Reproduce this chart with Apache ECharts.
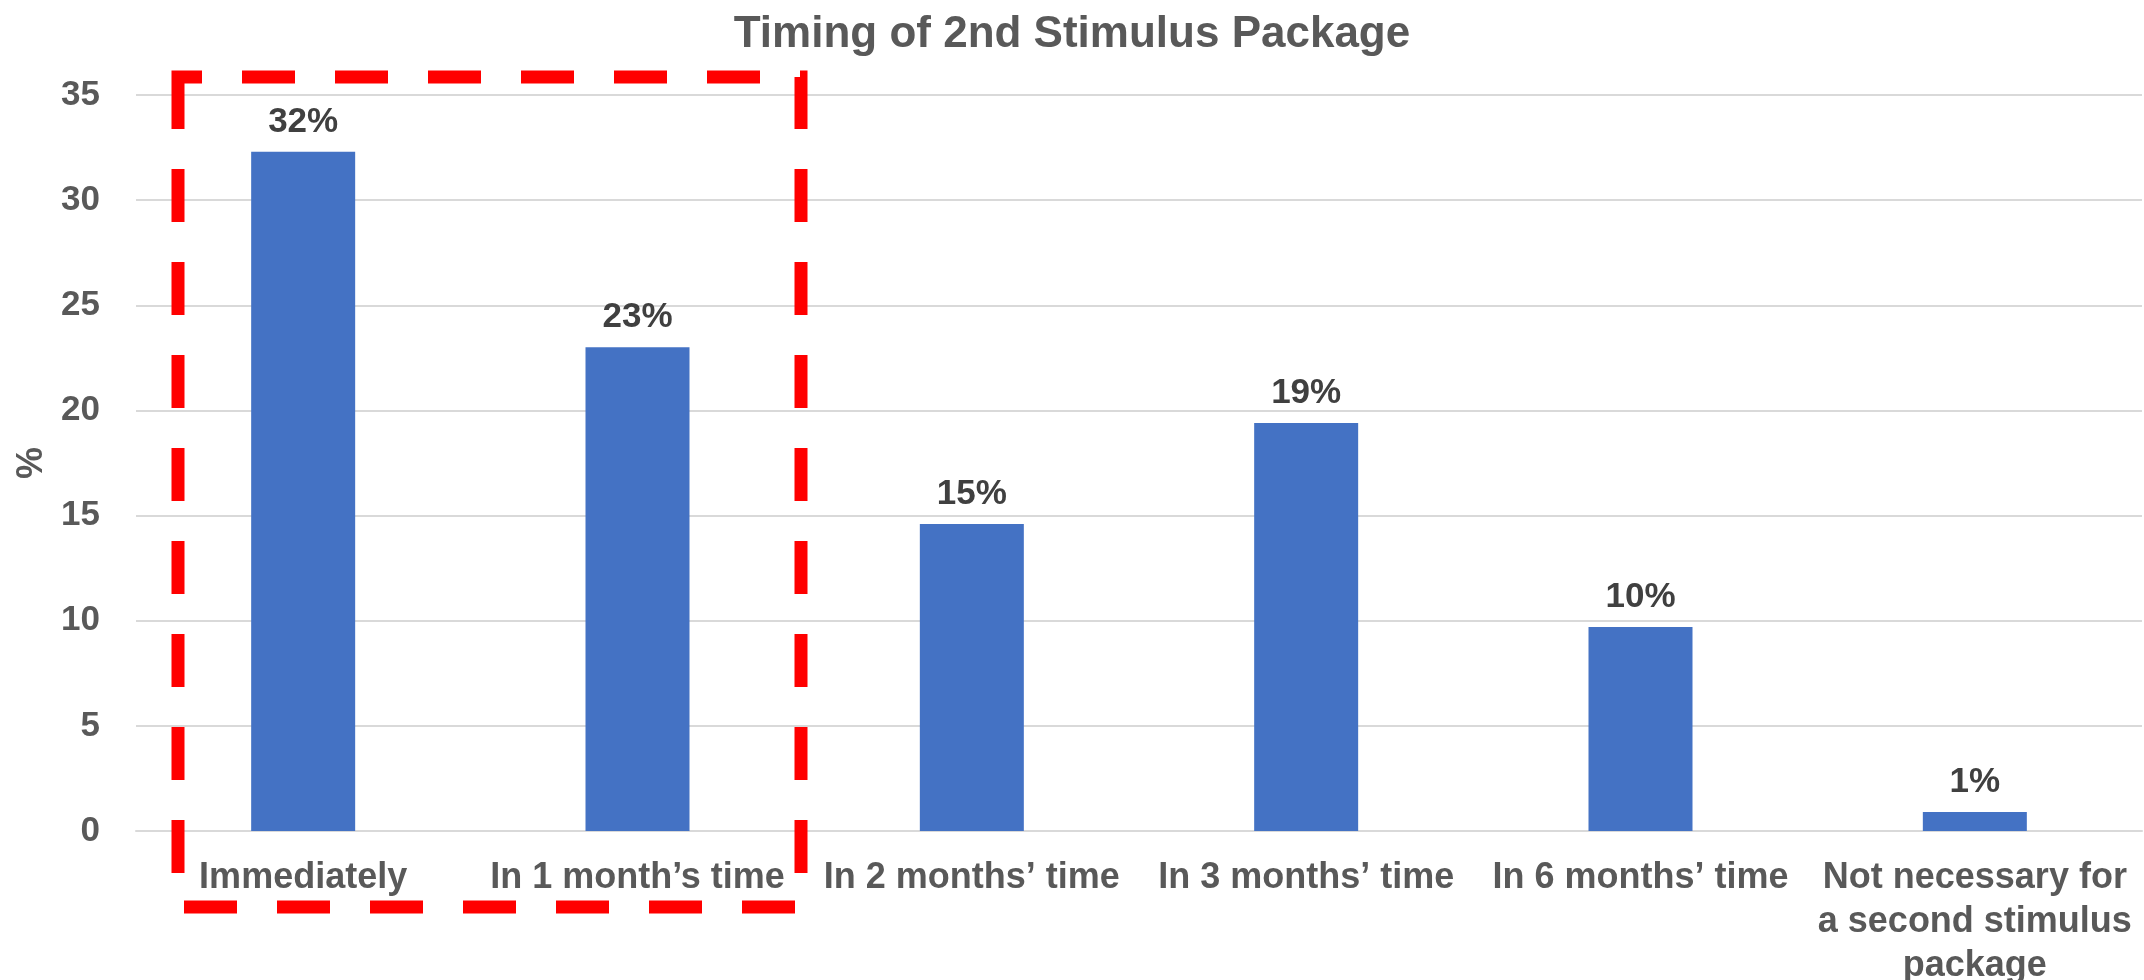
<!DOCTYPE html>
<html>
<head>
<meta charset="utf-8">
<script src="https://cdn.jsdelivr.net/npm/echarts@6/dist/echarts.min.js"></script>
<style>
    html, body { margin: 0; padding: 0; background: #fff; }
    #chart { width: 2144px; height: 980px; }
</style>
</head>
<body>
<div id="chart"></div>
<script>
// values
const categories = [
    'Immediately',
    'In 1 month\u2019s time',
    'In 2 months\u2019 time',
    'In 3 months\u2019 time',
    'In 6 months\u2019 time',
    'Not necessary for\na second stimulus\npackage'
];
const shares = [32.3, 23.0, 14.6, 19.4, 9.7, 0.9];
const yTicks = { min: 0, max: 35, interval: 5 };

const font = '"Liberation Sans", Arial, sans-serif';
const chart = echarts.init(document.getElementById('chart'));

chart.setOption({
    animation: false,
    backgroundColor: '#fff',
    title: {
        text: 'Timing of 2nd Stimulus Package',
        left: 'center',
        top: 8,
        textStyle: {
            fontFamily: font,
            fontSize: 44,
            fontWeight: 'bold',
            color: '#595959'
        }
    },
    grid: {
        left: 136,
        right: 2,
        top: 95,
        bottom: 149,
        outerBoundsMode: 'none'
    },
    xAxis: {
        type: 'category',
        data: categories,
        axisTick: { show: false },
        axisLine: {
            show: true,
            lineStyle: { color: '#d9d9d9', width: 2 }
        },
        axisLabel: {
            interval: 0,
            margin: 25,
            fontFamily: font,
            fontSize: 36,
            fontWeight: 'bold',
            lineHeight: 44,
            color: '#595959'
        }
    },
    yAxis: {
        type: 'value',
        min: yTicks.min,
        max: yTicks.max,
        interval: yTicks.interval,
        name: '%',
        nameLocation: 'middle',
        nameGap: 85,
        nameTextStyle: {
            fontFamily: font,
            fontSize: 36,
            fontWeight: 'bold',
            color: '#595959'
        },
        axisLine: { show: false },
        axisTick: { show: false },
        axisLabel: {
            margin: 36,
            fontFamily: font,
            fontSize: 35,
            fontWeight: 'bold',
            color: '#595959'
        },
        splitLine: {
            lineStyle: { color: '#d9d9d9', width: 2 }
        }
    },
    series: [
        {
            type: 'bar',
            data: shares,
            barWidth: 104,
            itemStyle: { color: '#4472c4' },
            label: {
                show: true,
                position: 'top',
                distance: 12,
                formatter: p => Math.round(p.value) + '%',
                fontFamily: font,
                fontSize: 35,
                fontWeight: 'bold',
                color: '#404040'
            }
        }
    ],
    // red dashed highlight box round the first two categories
    graphic: [
        {
            type: 'rect',
            z: 100,
            shape: { x: 178, y: 77, width: 623, height: 830 },
            style: {
                fill: null,
                stroke: '#ff0000',
                lineWidth: 13,
                lineDash: [53, 40],
                lineDashOffset: 29
            }
        }
    ]
});
</script>
</body>
</html>
